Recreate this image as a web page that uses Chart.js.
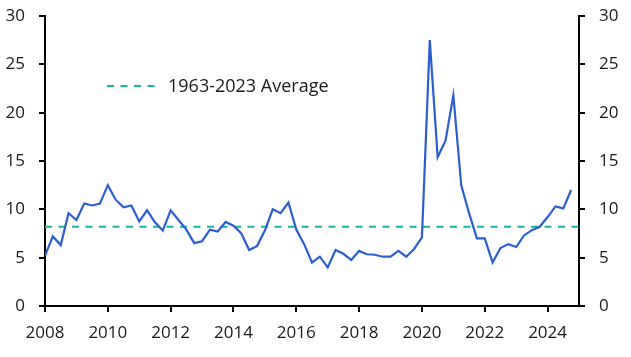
<!DOCTYPE html>
<html>
<head>
<meta charset="utf-8">
<script src="https://cdn.jsdelivr.net/npm/chart.js@4/dist/chart.umd.min.js"></script>
<style>
  html, body { margin: 0; padding: 0; background: #fff; }
  #wrap { width: 631px; height: 357px; position: relative; }
</style>
</head>
<body>
<div id="wrap"><canvas id="c"></canvas></div>
<script>
// ---- Data ----
const startYear = 2008;           // first quarter: 2008 Q1
const seriesValues = [
  5.2, 7.2, 6.3, 9.6,      // 2008
  8.9, 10.6, 10.4, 10.6,   // 2009
  12.5, 11.0, 10.2, 10.4,  // 2010
  8.75, 9.9, 8.65, 7.8,    // 2011
  9.9, 8.9, 7.9, 6.5,      // 2012
  6.7, 7.9, 7.7, 8.7,      // 2013
  8.3, 7.5, 5.8, 6.2,      // 2014
  7.8, 10.0, 9.6, 10.7,    // 2015
  7.9, 6.4, 4.5, 5.1,      // 2016
  4.0, 5.8, 5.4, 4.75,     // 2017
  5.7, 5.35, 5.3, 5.1,     // 2018
  5.1, 5.7, 5.1, 5.9,      // 2019
  7.1, 27.5, 15.4, 17.1,   // 2020
  21.8, 12.5, 9.6, 7.0,    // 2021
  7.0, 4.5, 6.0, 6.4,      // 2022
  6.1, 7.3, 7.85, 8.2,     // 2023
  9.2, 10.3, 10.1, 12.0    // 2024
];
const averageValue = 8.2;
const averageLabel = "1963-2023 Average";
const xTickYears = [2008, 2010, 2012, 2014, 2016, 2018, 2020, 2022, 2024];
const yTickValues = [0, 5, 10, 15, 20, 25, 30];
const xRange = [2008, 2025];
const yRange = [0, 30];

// categories: decimal year of each quarter
const categories = seriesValues.map((_, i) => startYear + i / 4);

// ---- Styles ----
const lineColor = '#2b5fd0';
const avgColor = '#17b3a3';
const textColor = '#1a1a1a';
const fontFamily = "'Open Sans', 'Noto Sans', sans-serif";
const tickFont = { family: fontFamily, size: 17 };

const axisCommon = (extra) => Object.assign({
  border: { display: true, color: '#000', width: 2 },
  grid: { display: true, drawOnChartArea: false, drawTicks: true, tickLength: 6, color: '#000', lineWidth: 2 },
}, extra);

const legendPlugin = {
  id: 'avgLegend',
  afterDraw(chart) {
    const ctx = chart.ctx;
    const ca = chart.chartArea;
    const x0 = ca.left + 62, y0 = 86;
    ctx.save();
    ctx.strokeStyle = avgColor;
    ctx.lineWidth = 2;
    ctx.setLineDash([7, 6.5]);
    ctx.beginPath();
    ctx.moveTo(x0, y0);
    ctx.lineTo(x0 + 48, y0);
    ctx.stroke();
    ctx.setLineDash([]);
    ctx.fillStyle = textColor;
    ctx.font = "18px " + fontFamily;
    ctx.textBaseline = 'middle';
    ctx.textAlign = 'left';
    ctx.fillText(averageLabel, x0 + 61, y0 + 1);
    ctx.restore();
  }
};

new Chart(document.getElementById('c'), {
  type: 'line',
  data: {
    datasets: [
      {
        label: averageLabel,
        data: xRange.map(x => ({ x: x, y: averageValue })),
        borderColor: avgColor,
        borderWidth: 2,
        borderDash: [7, 6.5],
        pointRadius: 0,
        tension: 0,
        yAxisID: 'y',
        order: 2
      },
      {
        label: 'Series',
        data: categories.map((x, i) => ({ x: x, y: seriesValues[i] })),
        borderColor: lineColor,
        borderWidth: 2.2,
        pointRadius: 0,
        tension: 0,
        yAxisID: 'y',
        order: 1
      }
    ]
  },
  options: {
    responsive: true,
    maintainAspectRatio: false,
    animation: false,
    devicePixelRatio: 1,
    layout: { padding: { top: 16, left: 0, right: 0, bottom: 0 } },
    plugins: { legend: { display: false }, tooltip: { enabled: false } },
    scales: {
      x: axisCommon({
        type: 'linear',
        position: 'bottom',
        min: xRange[0], max: xRange[1],
        afterBuildTicks: (s) => { s.ticks = xTickYears.map(v => ({ value: v })); },
        afterFit: (s) => { s.height = 51; s.paddingLeft = 0; s.paddingRight = 0; },
        ticks: { font: tickFont, color: textColor, padding: 11, maxRotation: 0, callback: (v) => String(v) }
      }),
      y: axisCommon({
        type: 'linear',
        position: 'left',
        min: yRange[0], max: yRange[1],
        afterBuildTicks: (s) => { s.ticks = yTickValues.map(v => ({ value: v })); },
        afterFit: (s) => { s.width = 45; s.paddingTop = 0; s.paddingBottom = 0; },
        ticks: { font: tickFont, color: textColor, padding: 14 }
      }),
      y2: axisCommon({
        type: 'linear',
        position: 'right',
        min: yRange[0], max: yRange[1],
        afterBuildTicks: (s) => { s.ticks = yTickValues.map(v => ({ value: v })); },
        afterFit: (s) => { s.width = 52; s.paddingTop = 0; s.paddingBottom = 0; },
        ticks: { font: tickFont, color: textColor, padding: 14 }
      })
    }
  },
  plugins: [legendPlugin]
});
</script>
</body>
</html>
